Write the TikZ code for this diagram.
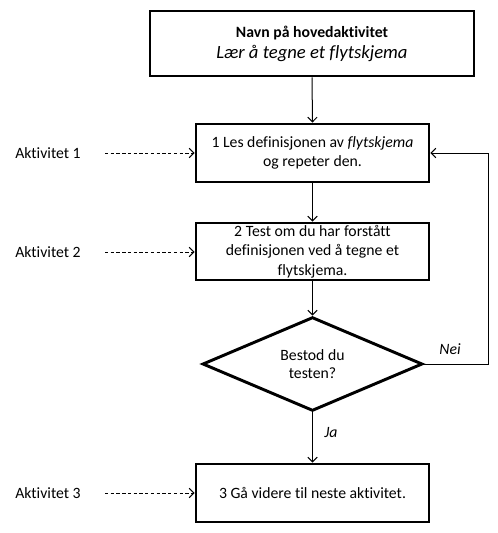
\documentclass[tikz,border=0pt]{standalone}
\usepackage{fontspec}
\setmainfont{Carlito}[Ligatures={NoCommon}]
\usetikzlibrary{shapes.geometric,arrows.meta}
\begin{document}
\begin{tikzpicture}[x=0.75pt,y=-0.75pt,
  box/.style={draw, line width=2.2pt, rectangle, inner sep=0pt, align=center, font=\fontsize{11.8}{14.6}\selectfont},
  dec/.style={draw, line width=2.2pt, diamond, inner sep=0pt, align=center, font=\fontsize{11.8}{14}\selectfont, minimum width=165pt, minimum height=58.5pt},
  flow/.style={line width=0.75pt, -{Straight Barb[length=3.5pt,width=7pt]}},
  dflow/.style={line width=0.75pt, dash pattern=on 2.5pt off 1.8pt, -{Straight Barb[length=3.5pt,width=7pt]}},
  lbl/.style={font=\fontsize{11.8}{14.6}\selectfont, inner sep=0pt},
  ilbl/.style={font=\fontsize{11.8}{14.6}\selectfont\itshape, inner sep=0pt}
]
\useasboundingbox (0,0) rectangle (498,533);
\node[box, minimum width=243pt, minimum height=48.75pt] (top) at (312,43.5)
  {{\bfseries Navn på hovedaktivitet}\\[1pt]{\fontsize{14}{16}\selectfont\itshape Lær å tegne et flytskjema}};
\node[box, minimum width=174.75pt, minimum height=43.5pt] (b1) at (312.5,153)
  {1 Les definisjonen av \textit{flytskjema}\\og repeter den.};
\node[box, minimum width=174.75pt, minimum height=42.75pt] (b2) at (312.5,251.5)
  {2 Test om du har forstått\\definisjonen ved å tegne et\\flytskjema.};
\node[dec] (d) at (312.5,364) {Bestod du\\testen?};
\node[box, minimum width=174.75pt, minimum height=43.5pt] (b3) at (312.5,493)
  {3 Gå videre til neste aktivitet.};

\node[lbl, anchor=west] (a1) at (15,153) {Aktivitet 1};
\node[lbl, anchor=west] (a2) at (15,252) {Aktivitet 2};
\node[lbl, anchor=west] (a3) at (15,493) {Aktivitet 3};
\coordinate (s1) at (105,153);
\coordinate (s2) at (105,252);
\coordinate (s3) at (105,493);
\draw[dflow] (s1) -- (b1.west |- s1);
\draw[dflow] (s2) -- (b2.west |- s2);
\draw[dflow] (s3) -- (b3.west |- s3);

\draw[flow] (top.south) -- (b1.north);
\draw[flow] (b1.south) -- (b2.north);
\draw[flow] (b2.south) -- (d.north);
\draw[flow] (d.south) -- (b3.north);
\coordinate (c1) at (488,364);
\draw[flow] (d.east) -- (c1) |- (b1.east);

\node[ilbl] (nei) at (450,349) {Nei};
\node[ilbl] (ja) at (331,433) {Ja};
\end{tikzpicture}
\end{document}
